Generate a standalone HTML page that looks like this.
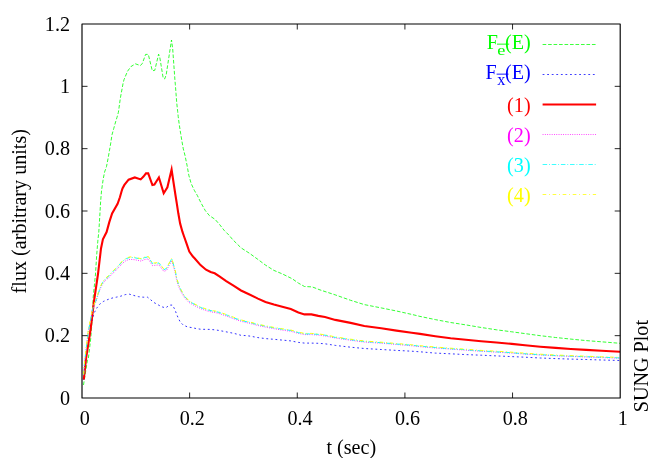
<!DOCTYPE html>
<html><head><meta charset="utf-8"><title>plot</title>
<style>
html,body{margin:0;padding:0;background:#fff;}
body{width:654px;height:458px;overflow:hidden;}
svg{display:block;will-change:transform;}
text{font-family:"Liberation Serif",serif;font-size:20.15px;fill:#000;}
</style></head><body>
<svg width="654" height="458" viewBox="0 0 654 458">
<rect x="0" y="0" width="654" height="458" fill="#fff"/>
<g fill="none" stroke-linejoin="miter" stroke-miterlimit="10" stroke-linecap="butt">
<path d="M83.5,385.0 L87.5,359.8 L88.4,358.0 L90.8,338.0 L92.5,315.0 L93.2,297.2 L95.5,274.0 L96.7,254.9 L97.8,241.2 L98.8,232.0 L99.7,217.5 L100.6,201.9 L101.5,190.9 L103.3,178.4 L104.6,172.0 L106.5,166.5 L108.3,157.3 L109.5,150.2 L110.6,143.9 L112.0,134.8 L113.8,128.3 L115.6,121.9 L117.0,117.3 L118.4,112.3 L120.4,97.9 L123.1,83.2 L124.0,79.7 L127.5,71.3 L130.9,66.6 L135.4,63.8 L140.4,65.6 L142.4,63.3 L145.6,54.4 L148.3,54.4 L152.3,70.8 L154.8,70.3 L158.6,54.2 L159.8,57.4 L163.2,78.2 L164.7,78.9 L166.2,74.8 L171.5,40.0 L172.7,48.9 L174.9,79.7 L175.3,84.2 L176.0,93.3 L176.7,102.5 L177.7,111.7 L178.2,116.5 L179.2,124.2 L180.6,133.3 L182.0,141.6 L183.3,148.9 L185.0,155.5 L187.0,165.1 L188.8,175.2 L191.1,183.4 L194.3,190.3 L197.3,195.4 L201.2,203.3 L205.3,210.6 L209.4,215.6 L215.0,219.3 L219.5,224.4 L224.1,230.3 L229.2,235.4 L232.6,239.5 L241.1,247.9 L249.5,253.3 L257.9,259.4 L265.5,265.1 L273.9,270.4 L282.3,273.9 L292.3,278.8 L298.4,283.1 L304.5,286.5 L312.2,286.9 L320.0,289.9 L335.3,294.9 L350.6,300.3 L364.3,304.6 L381.2,307.9 L396.5,311.0 L411.7,314.4 L420.0,316.4 L435.3,319.6 L450.6,322.5 L465.9,324.9 L481.2,327.5 L496.5,329.8 L511.7,331.8 L525.0,333.6 L540.3,335.7 L555.6,337.5 L570.9,339.1 L586.2,340.6 L601.5,341.8 L620.0,343.3" stroke="#00ff00" stroke-width="0.8" stroke-dasharray="3.65,1.83"/>
<path d="M83.7,380.0 L86.0,358.0 L90.3,330.0 L93.5,315.0 L94.6,312.1 L96.9,307.9 L99.6,304.3 L103.3,301.5 L107.9,299.5 L112.0,298.1 L116.6,297.1 L120.7,296.2 L125.3,294.6 L129.4,294.2 L134.0,295.5 L138.6,296.7 L143.2,297.2 L147.5,297.2 L150.5,299.6 L153.7,302.4 L157.4,304.4 L161.5,306.7 L165.6,307.9 L169.6,305.1 L172.5,305.1 L174.8,309.4 L176.5,313.9 L178.2,318.0 L180.3,322.1 L183.3,325.1 L187.7,327.0 L191.8,327.6 L196.4,328.6 L201.0,329.3 L210.1,329.4 L214.7,329.8 L219.3,330.5 L223.9,331.4 L228.5,332.3 L232.6,333.1 L237.2,334.2 L240.9,335.3 L245.9,335.6 L250.0,336.1 L257.9,337.6 L265.5,338.6 L273.9,339.3 L282.3,340.1 L290.8,340.9 L298.4,342.4 L304.5,343.1 L311.4,343.1 L318.3,343.3 L325.0,343.8 L335.3,345.4 L350.6,347.2 L364.3,348.5 L381.2,349.5 L396.5,350.4 L411.7,351.2 L420.0,351.8 L435.3,353.1 L450.6,353.8 L465.9,354.6 L481.2,355.2 L496.5,355.9 L511.7,356.6 L525.0,357.2 L540.3,358.0 L555.6,358.6 L570.9,359.1 L586.2,359.5 L601.5,360.0 L620.0,360.5" stroke="#0000ff" stroke-width="0.8" stroke-dasharray="1.83,2.74"/>
<path d="M83.8,379.5 L86.1,358.0 L90.5,330.0 L93.9,302.0 L98.0,274.0 L99.7,259.5 L101.0,248.5 L102.9,239.3 L106.6,232.0 L109.3,222.1 L112.1,213.4 L117.6,203.8 L119.9,197.3 L121.6,191.3 L122.5,188.4 L124.4,184.9 L128.6,179.7 L134.8,177.4 L140.7,179.4 L143.5,176.6 L146.0,173.4 L148.2,173.4 L152.4,185.0 L154.4,184.5 L158.9,177.5 L163.7,193.2 L167.4,187.3 L171.6,169.6 L173.3,181.0 L175.6,196.0 L176.9,204.2 L178.3,213.3 L180.1,223.4 L182.4,231.7 L183.9,236.0 L186.5,243.3 L189.3,251.5 L192.9,256.6 L195.0,258.7 L200.5,265.1 L206.0,269.7 L210.6,272.0 L214.7,273.3 L219.8,276.6 L226.2,281.1 L233.5,285.7 L241.0,290.5 L249.5,294.5 L257.9,298.6 L265.5,301.9 L273.9,304.5 L282.3,306.8 L290.8,309.1 L298.4,312.4 L304.5,314.4 L311.4,314.4 L318.3,315.9 L325.0,317.0 L335.3,319.9 L350.6,322.9 L364.3,326.0 L381.2,328.3 L396.5,330.6 L411.7,332.7 L420.0,333.9 L435.3,336.2 L450.6,338.2 L465.9,339.8 L481.2,341.3 L496.5,342.5 L511.7,343.9 L525.0,345.3 L540.3,346.7 L555.6,347.9 L570.9,349.0 L586.2,349.9 L601.5,350.8 L620.0,351.7" stroke="#ff0000" stroke-width="2.1"/>
<path d="M83.5,374.9 L84.7,360.4 L85.0,358.7 L88.2,332.1 L92.7,309.5 L95.1,303.6 L95.7,302.5 L97.6,296.5 L100.0,289.3 L102.5,283.9 L105.5,280.3 L109.2,277.3 L110.8,275.4 L117.1,269.1 L122.6,263.2 L126.3,260.4 L130.0,259.4 L134.6,259.7 L141.0,261.1 L144.7,259.5 L148.3,258.9 L152.5,265.6 L158.9,264.9 L163.9,271.5 L166.7,270.1 L171.7,260.5 L173.7,267.5 L175.1,272.1 L176.5,279.3 L178.3,285.7 L181.1,292.0 L184.6,297.8 L188.9,302.4 L195.0,305.9 L200.5,308.6 L206.9,310.9 L213.3,312.3 L217.9,313.1 L222.5,314.7 L227.1,316.3 L233.5,318.7 L240.9,321.3 L249.5,323.3 L257.9,325.5 L265.5,327.1 L273.9,328.7 L282.3,330.1 L290.8,331.3 L298.4,333.4 L304.5,334.6 L311.4,334.6 L318.3,335.1 L325.0,336.0 L335.3,338.0 L350.6,340.3 L364.3,342.1 L381.2,343.2 L396.5,344.5 L411.7,345.8 L420.0,346.7 L435.3,348.0 L450.6,349.1 L465.9,350.2 L481.2,351.3 L496.5,352.2 L511.7,353.1 L525.0,354.1 L540.3,355.0 L555.6,355.8 L570.9,356.4 L586.2,357.0 L601.5,357.6 L620.0,358.2" stroke="#ff00ff" stroke-width="0.85" stroke-dasharray="0.91,1.37"/>
<path d="M83.6,374.9 L84.8,360.2 L85.1,358.4 L88.3,331.4 L92.8,308.4 L95.2,302.4 L95.8,301.2 L97.7,295.2 L100.1,287.9 L102.6,282.4 L105.6,278.7 L109.3,275.6 L110.9,273.7 L117.2,267.2 L122.7,261.2 L126.4,258.5 L130.1,257.4 L134.7,257.7 L141.1,259.2 L144.8,257.5 L148.4,256.9 L152.6,263.7 L159.0,263.0 L164.0,269.7 L166.8,268.2 L171.8,258.6 L173.8,265.7 L175.2,270.4 L176.6,277.7 L178.4,284.2 L181.2,290.6 L184.7,296.5 L189.0,301.2 L195.1,304.7 L200.6,307.5 L207.0,309.8 L213.4,311.2 L218.0,312.1 L222.6,313.7 L227.2,315.2 L233.6,317.8 L241.0,320.4 L249.6,322.4 L258.0,324.7 L265.6,326.2 L274.0,327.9 L282.4,329.2 L290.9,330.5 L298.5,332.7 L304.6,333.9 L311.5,333.9 L318.4,334.4 L325.1,335.2 L335.4,337.4 L350.7,339.7 L364.4,341.5 L381.3,342.7 L396.6,344.0 L411.8,345.2 L420.1,346.2 L435.4,347.5 L450.7,348.7 L466.0,349.8 L481.3,350.9 L496.6,351.8 L511.8,352.7 L525.1,353.8 L540.4,354.7 L555.7,355.5 L571.0,356.1 L586.3,356.7 L601.6,357.2 L620.1,357.9" stroke="#00ffff" stroke-width="0.95" stroke-dasharray="4.57,1.83,0.91,1.83"/>
<path d="M83.5,374.4 L84.7,359.7 L85.0,357.9 L88.2,330.9 L92.7,307.9 L95.1,301.9 L95.7,300.8 L97.6,294.7 L100.0,287.4 L102.5,281.9 L105.5,278.2 L109.2,275.1 L110.8,273.2 L117.1,266.8 L122.6,260.8 L126.3,258.0 L130.0,256.9 L134.6,257.2 L141.0,258.7 L144.7,257.0 L148.3,256.4 L152.5,263.2 L158.9,262.5 L163.9,269.2 L166.7,267.8 L171.7,258.1 L173.7,265.2 L175.1,269.9 L176.5,277.2 L178.3,283.7 L181.1,290.1 L184.6,296.0 L188.9,300.7 L195.0,304.2 L200.5,307.0 L206.9,309.2 L213.3,310.7 L217.9,311.6 L222.5,313.2 L227.1,314.8 L233.5,317.2 L240.9,319.9 L249.5,321.9 L257.9,324.2 L265.5,325.8 L273.9,327.4 L282.3,328.8 L290.8,330.0 L298.4,332.2 L304.5,333.4 L311.4,333.4 L318.3,333.9 L325.0,334.8 L335.3,336.9 L350.6,339.2 L364.3,341.0 L381.2,342.2 L396.5,343.5 L411.7,344.8 L420.0,345.7 L435.3,347.0 L450.6,348.2 L465.9,349.2 L481.2,350.4 L496.5,351.2 L511.7,352.2 L525.0,353.2 L540.3,354.2 L555.6,355.0 L570.9,355.6 L586.2,356.2 L601.5,356.8 L620.0,357.4" stroke="#ffff00" stroke-width="0.95" stroke-dasharray="3.65,2.74,0.91,2.74"/>
</g>
<g fill="none" stroke="#000" stroke-width="1.15" stroke-linejoin="round">
<rect x="82.0" y="24.0" width="538.2" height="374.0"/>
<path d="M82.0,335.67h5.5 M620.2,335.67h-5.5 M82.0,273.33h5.5 M620.2,273.33h-5.5 M82.0,211.00h5.5 M620.2,211.00h-5.5 M82.0,148.67h5.5 M620.2,148.67h-5.5 M82.0,86.33h5.5 M620.2,86.33h-5.5 M189.64,398.0v-5.5 M189.64,24.0v5.5 M297.28,398.0v-5.5 M297.28,24.0v5.5 M404.92,398.0v-5.5 M404.92,24.0v5.5 M512.56,398.0v-5.5 M512.56,24.0v5.5" stroke-width="0.85"/>
</g>
<text x="70" y="404.6" text-anchor="end">0</text>
<text x="70" y="342.3" text-anchor="end">0.2</text>
<text x="70" y="279.9" text-anchor="end">0.4</text>
<text x="70" y="217.6" text-anchor="end">0.6</text>
<text x="70" y="155.3" text-anchor="end">0.8</text>
<text x="70" y="92.9" text-anchor="end">1</text>
<text x="70" y="30.6" text-anchor="end">1.2</text>
<text x="84.7" y="424.7" text-anchor="middle">0</text>
<text x="192.3" y="424.7" text-anchor="middle">0.2</text>
<text x="300.0" y="424.7" text-anchor="middle">0.4</text>
<text x="407.6" y="424.7" text-anchor="middle">0.6</text>
<text x="515.3" y="424.7" text-anchor="middle">0.8</text>
<text x="622.9" y="424.7" text-anchor="middle">1</text>
<text x="351.3" y="454.4" text-anchor="middle">t (sec)</text>
<text transform="translate(26.4,211.2) rotate(-90)" text-anchor="middle">flux (arbitrary units)</text>
<text transform="translate(648.2,412.3) rotate(-90)" text-anchor="start" style="font-size:20.15px">SUNG Plot</text>
<path d="M542.6,44.50H596.1" fill="none" stroke="#00ff00" stroke-width="0.76" stroke-dasharray="3.65,1.83"/>
<path d="M542.6,74.50H596.1" fill="none" stroke="#0000ff" stroke-width="0.76" stroke-dasharray="1.83,2.74"/>
<path d="M542.6,104.50H596.1" fill="none" stroke="#ff0000" stroke-width="2.10"/>
<text x="530.6" y="111.6" text-anchor="end" style="fill:#ff0000">(1)</text>
<path d="M542.6,134.50H596.1" fill="none" stroke="#ff00ff" stroke-width="0.76" stroke-dasharray="0.91,1.37"/>
<text x="530.6" y="141.6" text-anchor="end" style="fill:#ff00ff">(2)</text>
<path d="M542.6,164.50H596.1" fill="none" stroke="#00ffff" stroke-width="0.76" stroke-dasharray="4.57,1.83,0.91,1.83"/>
<text x="530.6" y="171.6" text-anchor="end" style="fill:#00ffff">(3)</text>
<path d="M542.6,194.50H596.1" fill="none" stroke="#ffff00" stroke-width="0.76" stroke-dasharray="3.65,2.74,0.91,2.74"/>
<text x="530.6" y="201.6" text-anchor="end" style="fill:#ffff00">(4)</text>
<text x="486.7" y="49.0" style="fill:#00ff00">F</text>
<text transform="translate(497.35,55.1) scale(1.12,0.96)" style="fill:#00ff00;font-size:16.3px">e</text>
<path d="M497.0,44.15H509.2" fill="none" stroke="#00ff00" stroke-width="0.9"/>
<text x="530.8" y="49.0" text-anchor="end" style="fill:#00ff00">(E)</text>
<text x="485.6" y="79.0" style="fill:#0000ff">F</text>
<text transform="translate(497.35,84.7) scale(1.00,1.00)" style="fill:#0000ff;font-size:16.3px">x</text>
<path d="M496.6,74.15H508.5" fill="none" stroke="#0000ff" stroke-width="0.9"/>
<text x="530.8" y="79.0" text-anchor="end" style="fill:#0000ff">(E)</text>
</svg>
</body></html>
